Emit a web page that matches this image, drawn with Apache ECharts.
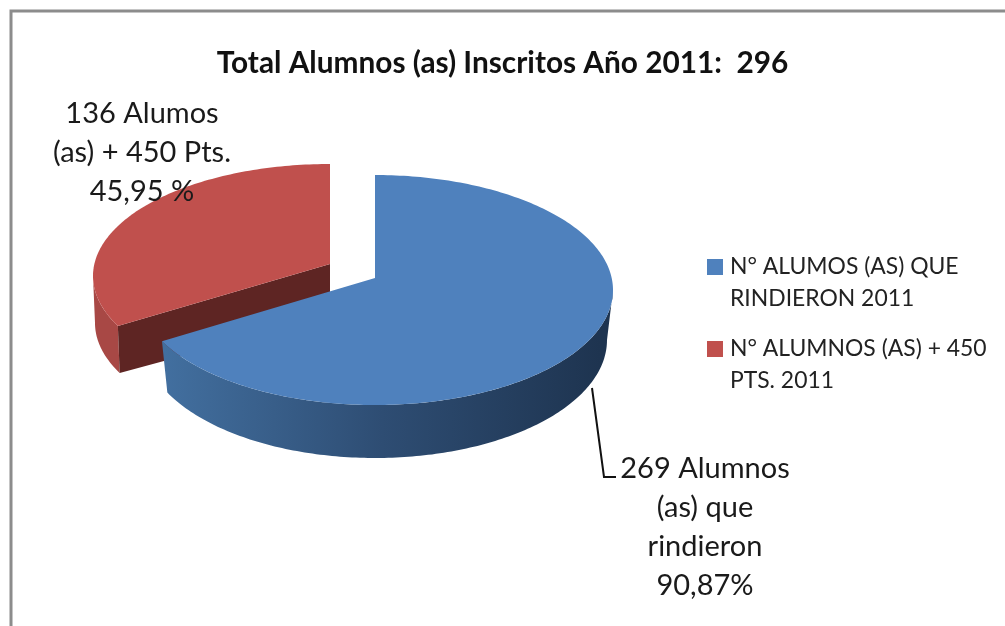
<!DOCTYPE html>
<html>
<head>
<meta charset="utf-8">
<style>html,body{margin:0;padding:0;background:#fff}#c{width:1005px;height:626px}</style>
<script src="https://cdn.jsdelivr.net/npm/echarts@6/dist/echarts.min.js"></script>
</head>
<body>
<div id="c"></div>
<script>
const titleText = 'Total Alumnos (as) Inscritos Año 2011:  296';
const seriesNames = ['N° ALUMOS (AS) QUE\nRINDIERON 2011', 'N° ALUMNOS (AS) + 450\nPTS. 2011'];
const sliceValues = [269, 136];
const sliceLabels = ['269 Alumnos\n(as) que\nrindieron\n90,87%', '136 Alumos\n(as) + 450 Pts.\n45,95 %'];

// Layout of each slice: apex, top-face ellipse, bottom-rim ellipse
const geometry = [
  {ax:375, ay:278, cx:375, cy:290, rx:238, ry:115, bx:375, by:340, brx:232, bry:118, depth:52},
  {ax:330, ay:264, cx:330, cy:276, rx:237, ry:112, bx:330, by:323, brx:235, bry:112, depth:52}
];
const styles = [
  {top:'#4f81bd', inner:'#2c4a6e', wall:{type:'linear',x:165,y:0,x2:600,y2:0,global:true,
     colorStops:[{offset:0,color:'#426f9f'},{offset:.5,color:'#2e4d73'},{offset:1,color:'#1e3450'}]}},
  {top:'#c0504d', inner:'#5e2523', wall:'#a84845'}
];
const total = sliceValues.reduce((a,b)=>a+b,0);
const SKEW = 5; // foreshortening of the tilted disc, degrees

function warp(deg){ return deg + SKEW*Math.sin(2*deg*Math.PI/180); }
function pt(cx,cy,rx,ry,deg){
  const t = deg*Math.PI/180;
  return [cx+rx*Math.sin(t), cy-ry*Math.cos(t)];
}
function arc(cx,cy,rx,ry,a,b){
  const out=[], n=Math.max(2,Math.ceil(Math.abs(b-a)));
  for(let i=0;i<=n;i++) out.push(pt(cx,cy,rx,ry,a+(b-a)*i/n));
  return out;
}
function sliceItem(index){
  return function(params, api){
    const before = sliceValues.slice(0,index).reduce((a,b)=>a+b,0);
    const value = api.value(0);
    const a = warp(before/total*360), b = warp((before+value)/total*360);
    const g = geometry[index], s = styles[index], kids=[];
    // outer wall: only the front half of the rim (90..270 degrees) is visible
    const wa = Math.max(a,90), wb = Math.min(b,270);
    if(wb>wa){
      kids.push({type:'polygon',shape:{points:
        arc(g.cx,g.cy,g.rx,g.ry,wa,wb).concat(arc(g.bx,g.by,g.brx,g.bry,wb,wa))},
        style:{fill:s.wall}});
    }
    // cut wall facing the viewer for the second slice
    if(index===1){
      const rimT=pt(g.cx,g.cy,g.rx,g.ry,a), rimB=pt(g.bx,g.by,g.brx,g.bry,a);
      kids.push({type:'polygon',shape:{points:[[g.ax,g.ay],rimT,rimB,[g.ax,g.ay+g.depth]]},
        style:{fill:s.inner}});
    }
    // top face
    kids.push({type:'polygon',shape:{points:[[g.ax,g.ay]].concat(arc(g.cx,g.cy,g.rx,g.ry,a,b))},
      style:{fill:s.top}});
    return {type:'group',children:kids};
  };
}
const textStyleBase = {fontFamily:'Lato, "Open Sans", sans-serif', fill:'#1a1a1a', fontSize:29, lineHeight:39, align:'center', verticalAlign:'middle'};

const chart = echarts.init(document.getElementById('c'));
chart.setOption({
  animation:false,
  backgroundColor:'#fff',
  title:{text:titleText,left:497.5,top:58,textAlign:'center',textVerticalAlign:'middle',
    textStyle:{fontFamily:'Lato, "Open Sans", sans-serif',fontWeight:'bold',fontSize:29.8,color:'#111'}},
  legend:{orient:'vertical',left:702,top:246,itemGap:18,itemWidth:18,itemHeight:48,
    icon:'path://M0 0H16V16H0ZM18 48h.01v.01H18Z',
    textStyle:{fontFamily:'Lato, "Open Sans", sans-serif',fontSize:22.9,lineHeight:32,color:'#222'},
    data:seriesNames},
  graphic:[
    {type:'polyline',z:50,shape:{points:[[11,640],[11,11],[1020,11]]},style:{stroke:'#8c8c8c',lineWidth:3,fill:null}},
    {type:'polyline',z:50,shape:{points:[[592,388],[604,477],[616,477]]},style:{stroke:'#111',lineWidth:2,fill:null}},
    {type:'text',z:60,x:705,y:527,style:Object.assign({text:sliceLabels[0]},textStyleBase)},
    {type:'text',z:60,x:142,y:153,style:Object.assign({text:sliceLabels[1]},textStyleBase)}
  ],
  series:[1,0].map(i=>({
    type:'custom',
    name:seriesNames[i],
    coordinateSystem:'none',
    itemStyle:{color:styles[i].top},
    silent:true,
    renderItem:sliceItem(i),
    data:[[sliceValues[i]]]
  }))
});
</script>
</body>
</html>
